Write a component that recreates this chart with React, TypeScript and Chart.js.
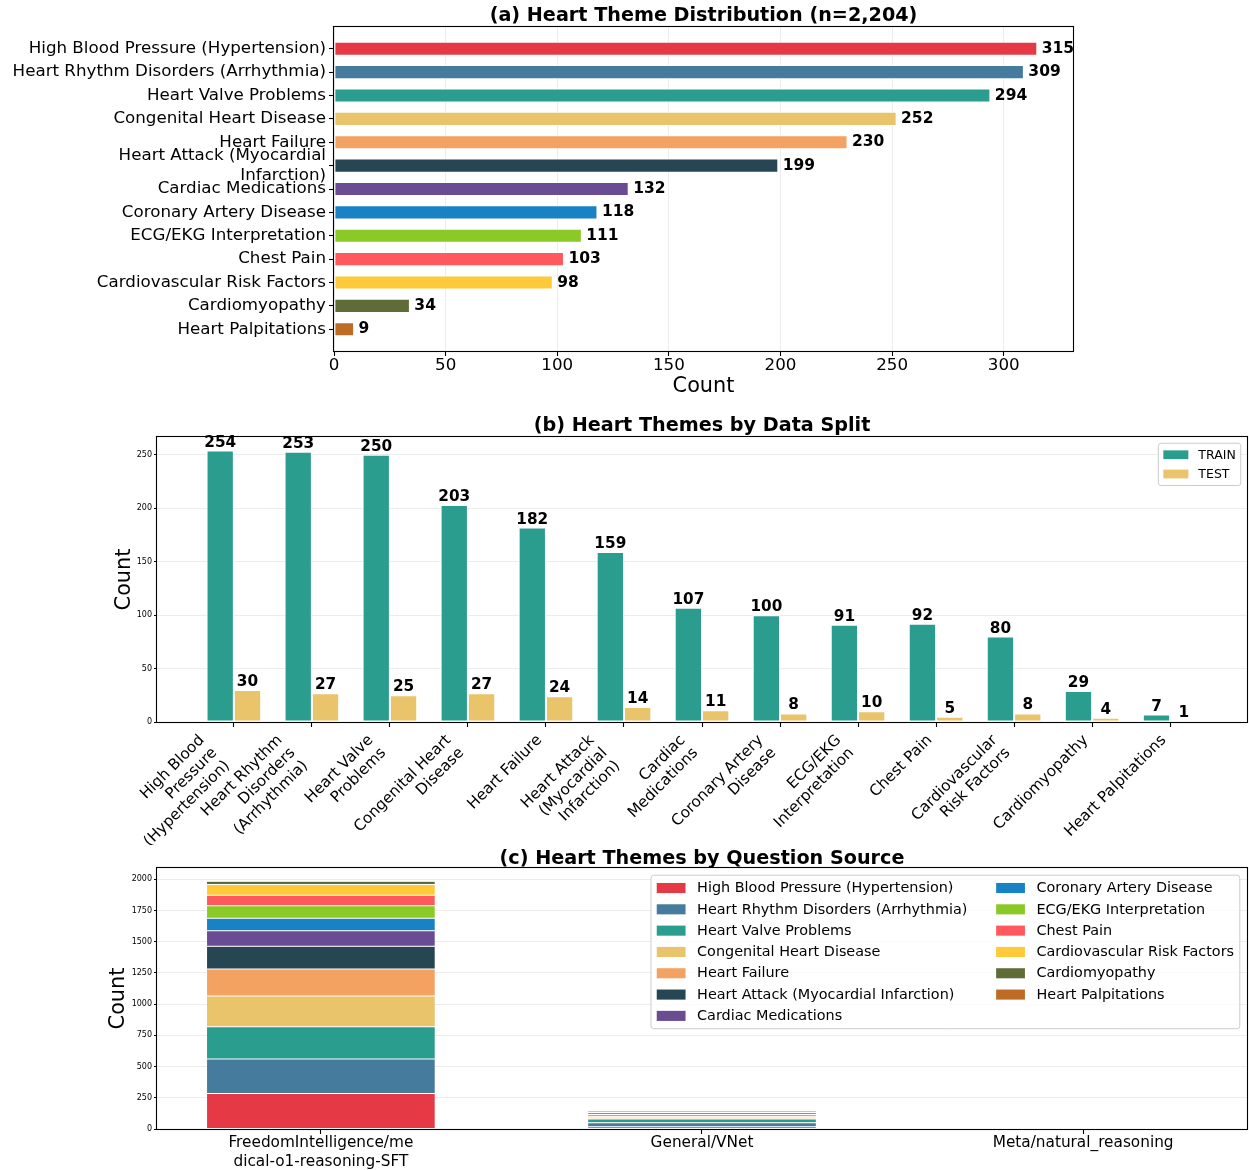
import { useEffect, useRef } from 'react';
import { Chart, registerables } from 'chart.js';

Chart.register(...registerables);

const FAMILY = "'DejaVu Sans', 'Liberation Sans', Arial, sans-serif";
const GRID = 'rgba(176,176,176,0.3)';
const INK = '#000000';

// ---- shared theme list -------------------------------------------------
const themeNames = [
  'High Blood Pressure (Hypertension)',
  'Heart Rhythm Disorders (Arrhythmia)',
  'Heart Valve Problems',
  'Congenital Heart Disease',
  'Heart Failure',
  'Heart Attack (Myocardial Infarction)',
  'Cardiac Medications',
  'Coronary Artery Disease',
  'ECG/EKG Interpretation',
  'Chest Pain',
  'Cardiovascular Risk Factors',
  'Cardiomyopathy',
  'Heart Palpitations',
];
const themeColors = [
  '#E63946', '#457B9D', '#2A9D8F', '#E9C46A', '#F4A261', '#264653', '#6A4C93',
  '#1982C4', '#8AC926', '#FF595E', '#FFCA3A', '#606C38', '#BC6C25',
];

// ---- (a) overall distribution ---------------------------------------------
const themeTotals = [315, 309, 294, 252, 230, 199, 132, 118, 111, 103, 98, 34, 9];
const distTickLabels: (string | string[])[] = [
  'High Blood Pressure (Hypertension)',
  'Heart Rhythm Disorders (Arrhythmia)',
  'Heart Valve Problems',
  'Congenital Heart Disease',
  'Heart Failure',
  ['Heart Attack (Myocardial', 'Infarction)'],
  'Cardiac Medications',
  'Coronary Artery Disease',
  'ECG/EKG Interpretation',
  'Chest Pain',
  'Cardiovascular Risk Factors',
  'Cardiomyopathy',
  'Heart Palpitations',
];
const distCountTicks = [0, 50, 100, 150, 200, 250, 300];

// ---- (b) by data split -----------------------------------------------------
const splitTickLabels: (string | string[])[] = [
  ['High Blood', 'Pressure', '(Hypertension)'],
  ['Heart Rhythm', 'Disorders', '(Arrhythmia)'],
  ['Heart Valve', 'Problems'],
  ['Congenital Heart', 'Disease'],
  'Heart Failure',
  ['Heart Attack', '(Myocardial', 'Infarction)'],
  ['Cardiac', 'Medications'],
  ['Coronary Artery', 'Disease'],
  ['ECG/EKG', 'Interpretation'],
  'Chest Pain',
  ['Cardiovascular', 'Risk Factors'],
  'Cardiomyopathy',
  'Heart Palpitations',
];
const trainCounts = [254, 253, 250, 203, 182, 159, 107, 100, 91, 92, 80, 29, 7];
const testCounts = [30, 27, 25, 27, 24, 14, 11, 8, 10, 5, 8, 4, 1];
const splitCountTicks = [0, 50, 100, 150, 200, 250];

// ---- (c) by question source -------------------------------------------------
const sourceLabels: (string | string[])[] = [
  ['FreedomIntelligence/me', 'dical-o1-reasoning-SFT'],
  'General/VNet',
  'Meta/natural_reasoning',
];
const freedomCounts = [285, 275, 258, 248, 215, 183, 124, 100, 99, 84, 86, 27, 4];
const vnetCounts = [19, 31, 30, 10, 12, 2, 12, 14, 4, 12, 7, 3, 1];
const metaCounts = [0, 0, 0, 0, 0, 0, 0, 0, 0, 0, 0, 0, 0];
const sourceCountTicks = [0, 250, 500, 750, 1000, 1250, 1500, 1750, 2000];

// ---- drawing helpers ---------------------------------------------------------
function drawFrame(chart: any) {
  const { ctx, chartArea: a } = chart;
  ctx.save();
  ctx.strokeStyle = INK;
  ctx.lineWidth = 1.1;
  ctx.strokeRect(Math.round(a.left) - 0.5, Math.round(a.top) - 0.5,
    Math.round(a.right - a.left) + 1, Math.round(a.bottom - a.top) + 1);
  ctx.restore();
}

function drawTitle(chart: any, text: string, y: number) {
  const { ctx, chartArea: a } = chart;
  ctx.save();
  ctx.font = `bold 19.2px ${FAMILY}`;
  ctx.fillStyle = INK;
  ctx.textAlign = 'center';
  ctx.textBaseline = 'middle';
  ctx.fillText(text, (a.left + a.right) / 2, y);
  ctx.restore();
}

function drawLegend(chart: any, items: { label: string; color: string }[], fs: number, ncol: number, rowFactor: number) {
  const { ctx, chartArea: a } = chart;
  ctx.save();
  ctx.font = `${fs}px ${FAMILY}`;
  const nrows = Math.ceil(items.length / ncol);
  const pad = 0.5 * fs, border = 0.4 * fs, hl = 2 * fs, hh = 0.7 * fs;
  const htp = 0.8 * fs, ls = 0.5 * fs, cs = 2 * fs, rowH = rowFactor * fs;
  const cols: { items: typeof items; width: number }[] = [];
  for (let c = 0; c < ncol; c++) {
    const colItems = items.slice(c * nrows, (c + 1) * nrows);
    const tw = Math.max(...colItems.map((it) => ctx.measureText(it.label).width));
    cols.push({ items: colItems, width: hl + htp + tw });
  }
  const boxW = 2 * border + cols.reduce((s, c) => s + c.width, 0) + cs * (ncol - 1);
  const boxH = 2 * border + nrows * rowH + (nrows - 1) * ls;
  const right = a.right - pad;
  const top = a.top + pad;
  const left = right - boxW;
  ctx.beginPath();
  ctx.roundRect(left, top, boxW, boxH, 0.2 * fs);
  ctx.fillStyle = 'rgba(255,255,255,0.8)';
  ctx.fill();
  ctx.strokeStyle = '#cccccc';
  ctx.lineWidth = 1;
  ctx.stroke();
  let x = left + border;
  cols.forEach((col) => {
    col.items.forEach((it, r) => {
      const cy = top + border + r * (rowH + ls) + rowH / 2;
      ctx.fillStyle = it.color;
      ctx.fillRect(x, cy - hh / 2, hl, hh);
      ctx.fillStyle = INK;
      ctx.textAlign = 'left';
      ctx.textBaseline = 'middle';
      ctx.fillText(it.label, x + hl + htp, cy + 0.5);
    });
    x += col.width + cs;
  });
  ctx.restore();
}

// x labels rotated 45 degrees, right-aligned to the tick (block anchored at its top-right)
function drawRotatedTicks(chart: any, labels: (string | string[])[], fs: number) {
  const { ctx, chartArea: a } = chart;
  const xs = chart.scales.x;
  const lh = 1.18 * fs;
  const c = Math.SQRT1_2;
  ctx.save();
  ctx.font = `${fs}px ${FAMILY}`;
  ctx.fillStyle = INK;
  ctx.textAlign = 'right';
  ctx.textBaseline = 'middle';
  labels.forEach((lab, i) => {
    const lines = Array.isArray(lab) ? lab : [lab];
    const H = lines.length * lh;
    const px = xs.getPixelForValue(i);
    ctx.save();
    ctx.translate(px - c * H, a.bottom + 9.5);
    ctx.rotate(-Math.PI / 4);
    lines.forEach((ln, j) => ctx.fillText(ln, 0, (j + 0.5) * lh));
    ctx.restore();
  });
  ctx.restore();
}

const fixedTicks = (values: number[]) => (scale: any) => {
  scale.ticks = values.map((v) => ({ value: v }));
};
const plainNumber = (v: any) => String(v);

function makeDistribution(canvas: HTMLCanvasElement) {
  return new Chart(canvas, {
    type: 'bar',
    data: {
      datasets: [{
        data: themeTotals.map((v, i) => ({ x: v, y: i })),
        backgroundColor: themeColors,
        borderColor: '#ffffff',
        borderWidth: 1,
        borderSkipped: false,
        barPercentage: 0.6,
        categoryPercentage: 1,
      }],
    },
    options: {
      indexAxis: 'y',
      animation: false,
      responsive: false,
      devicePixelRatio: 1,
      layout: { padding: { top: 27, right: 176, left: 0, bottom: 0 } },
      plugins: { legend: { display: false }, tooltip: { enabled: false } },
      scales: {
        x: {
          type: 'linear', min: 0, max: 331, z: 1,
          afterBuildTicks: fixedTicks(distCountTicks),
          afterFit: (s: any) => { s.height = 49; },
          grid: { color: GRID, lineWidth: 0.8, tickColor: INK, tickLength: 5, tickWidth: 1.1 },
          border: { display: false },
          ticks: { callback: plainNumber, font: { size: 16.7, family: FAMILY }, color: INK, padding: 0, maxRotation: 0 },
          title: { display: true, text: 'Count', font: { size: 20.8, family: FAMILY }, color: INK, padding: { top: 0, bottom: 0.5 } },
        },
        y: {
          type: 'linear', min: -0.93, max: 12.93, reverse: true, offset: false,
          afterBuildTicks: fixedTicks(themeTotals.map((_, i) => i)),
          afterFit: (s: any) => { s.width = 334; },
          grid: { offset: false, drawOnChartArea: false, tickColor: INK, tickLength: 5, tickWidth: 1.1 },
          border: { display: false },
          ticks: {
            callback: (v: any) => distTickLabels[v],
            autoSkip: false,
            font: { size: 16.7, family: FAMILY, lineHeight: 1.15 },
            color: INK, padding: 3,
          },
        },
      },
    } as any,
    plugins: [{
      id: 'distDecor',
      afterDraw(chart: any) {
        drawFrame(chart);
        drawTitle(chart, '(a) Heart Theme Distribution (n=2,204)', 16.5);
        const { ctx } = chart;
        const xs = chart.scales.x, ys = chart.scales.y;
        ctx.save();
        ctx.font = `bold 15.5px ${FAMILY}`;
        ctx.fillStyle = INK;
        ctx.textAlign = 'left';
        ctx.textBaseline = 'middle';
        themeTotals.forEach((v, i) => {
          ctx.fillText(String(v), xs.getPixelForValue(v + 2), ys.getPixelForValue(i));
        });
        ctx.restore();
      },
    }],
  });
}

function makeSplit(canvas: HTMLCanvasElement) {
  const series = [
    { label: 'TRAIN', values: trainCounts, color: '#2A9D8F' },
    { label: 'TEST', values: testCounts, color: '#E9C46A' },
  ];
  return new Chart(canvas, {
    type: 'bar',
    data: {
      datasets: series.map((s) => ({
        label: s.label,
        data: s.values.map((v, i) => ({ x: i, y: v })),
        backgroundColor: s.color,
        borderColor: '#ffffff',
        borderWidth: 1,
        borderSkipped: false,
        barPercentage: 1,
        categoryPercentage: 0.7,
      })),
    },
    options: {
      animation: false,
      responsive: false,
      devicePixelRatio: 1,
      layout: { padding: { top: 37, right: 2, left: 0, bottom: 0 } },
      plugins: { legend: { display: false }, tooltip: { enabled: false } },
      scales: {
        x: {
          type: 'linear', min: -0.985, max: 12.985, offset: false,
          afterBuildTicks: fixedTicks(trainCounts.map((_, i) => i)),
          afterFit: (s: any) => { s.height = 123; },
          grid: { offset: false, drawOnChartArea: false, tickColor: INK, tickLength: 5, tickWidth: 1.1 },
          border: { display: false },
          ticks: { display: false },
        },
        y: {
          type: 'linear', min: 0, max: 266.7, z: 1,
          afterBuildTicks: fixedTicks(splitCountTicks),
          afterFit: (s: any) => { s.width = 157; },
          grid: { color: GRID, lineWidth: 0.8, tickColor: INK, tickLength: 3, tickWidth: 1 },
          border: { display: false },
          ticks: { callback: plainNumber, font: { size: 8, family: FAMILY }, color: INK, padding: 2 },
          title: { display: true, text: 'Count', font: { size: 20.8, family: FAMILY }, color: INK, padding: { top: 112.5, bottom: 0 } },
        },
      },
    } as any,
    plugins: [{
      id: 'splitDecor',
      afterDraw(chart: any) {
        drawFrame(chart);
        drawTitle(chart, '(b) Heart Themes by Data Split', 26.5);
        drawRotatedTicks(chart, splitTickLabels, 15.3);
        const { ctx } = chart;
        ctx.save();
        ctx.font = `bold 15.3px ${FAMILY}`;
        ctx.fillStyle = INK;
        ctx.textAlign = 'center';
        ctx.textBaseline = 'alphabetic';
        series.forEach((s, d) => {
          const meta = chart.getDatasetMeta(d);
          s.values.forEach((v, i) => {
            const el = meta.data[i];
            ctx.fillText(String(v), el.x, el.y - 4);
          });
        });
        ctx.restore();
        drawLegend(chart, series.map((s) => ({ label: s.label, color: s.color })), 12.5, 1, 1.04);
      },
    }],
  });
}

function makeSource(canvas: HTMLCanvasElement) {
  return new Chart(canvas, {
    type: 'bar',
    data: {
      datasets: themeNames.map((name, t) => ({
        label: name,
        data: [freedomCounts[t], vnetCounts[t], metaCounts[t]].map((v, i) => ({ x: i, y: v })),
        backgroundColor: themeColors[t],
        borderColor: '#ffffff',
        borderWidth: 0.5,
        borderSkipped: false,
        barPercentage: 0.6,
        categoryPercentage: 1,
      })),
    },
    options: {
      animation: false,
      responsive: false,
      devicePixelRatio: 1,
      layout: { padding: { top: 23, right: 2, left: 0, bottom: 0 } },
      plugins: { legend: { display: false }, tooltip: { enabled: false } },
      scales: {
        x: {
          type: 'linear', min: -0.43, max: 2.43, offset: false, stacked: true,
          afterBuildTicks: fixedTicks([0, 1, 2]),
          afterFit: (s: any) => { s.height = 41; },
          grid: { offset: false, drawOnChartArea: false, tickColor: INK, tickLength: 5, tickWidth: 1.1 },
          border: { display: false },
          ticks: {
            callback: (v: any) => sourceLabels[v],
            autoSkip: false, maxRotation: 0, minRotation: 0,
            font: { size: 15.3, family: FAMILY, lineHeight: 1.2 }, color: INK, padding: 0,
          },
        },
        y: {
          type: 'linear', min: 0, max: 2090, stacked: true, z: 1,
          afterBuildTicks: fixedTicks(sourceCountTicks),
          afterFit: (s: any) => { s.width = 157; },
          grid: { color: GRID, lineWidth: 0.8, tickColor: INK, tickLength: 3, tickWidth: 1 },
          border: { display: false },
          ticks: { callback: plainNumber, font: { size: 8, family: FAMILY }, color: INK, padding: 2 },
          title: { display: true, text: 'Count', font: { size: 20.8, family: FAMILY }, color: INK, padding: { top: 106.5, bottom: 0 } },
        },
      },
    } as any,
    plugins: [{
      id: 'sourceDecor',
      afterDraw(chart: any) {
        drawFrame(chart);
        drawTitle(chart, '(c) Heart Themes by Question Source', 14.5);
        drawLegend(chart, themeNames.map((n, i) => ({ label: n, color: themeColors[i] })), 14.4, 2, 0.98);
      },
    }],
  });
}

export default function App() {
  const distRef = useRef<HTMLCanvasElement>(null);
  const splitRef = useRef<HTMLCanvasElement>(null);
  const sourceRef = useRef<HTMLCanvasElement>(null);

  useEffect(() => {
    Chart.defaults.font.family = FAMILY;
    Chart.defaults.color = INK;
    const charts = [
      makeDistribution(distRef.current!),
      makeSplit(splitRef.current!),
      makeSource(sourceRef.current!),
    ];
    return () => charts.forEach((c) => c.destroy());
  }, []);

  const canvasStyle = (top: number, height: number): React.CSSProperties => ({
    position: 'absolute', left: 0, top, width: 1249, height,
  });

  return (
    <div style={{ position: 'absolute', left: 0, top: 0, width: 1249, height: 1170, background: '#ffffff' }}>
      <canvas ref={distRef} width={1249} height={400} style={canvasStyle(0, 400)} />
      <canvas ref={splitRef} width={1249} height={445} style={canvasStyle(400, 445)} />
      <canvas ref={sourceRef} width={1249} height={325} style={canvasStyle(845, 325)} />
    </div>
  );
}
